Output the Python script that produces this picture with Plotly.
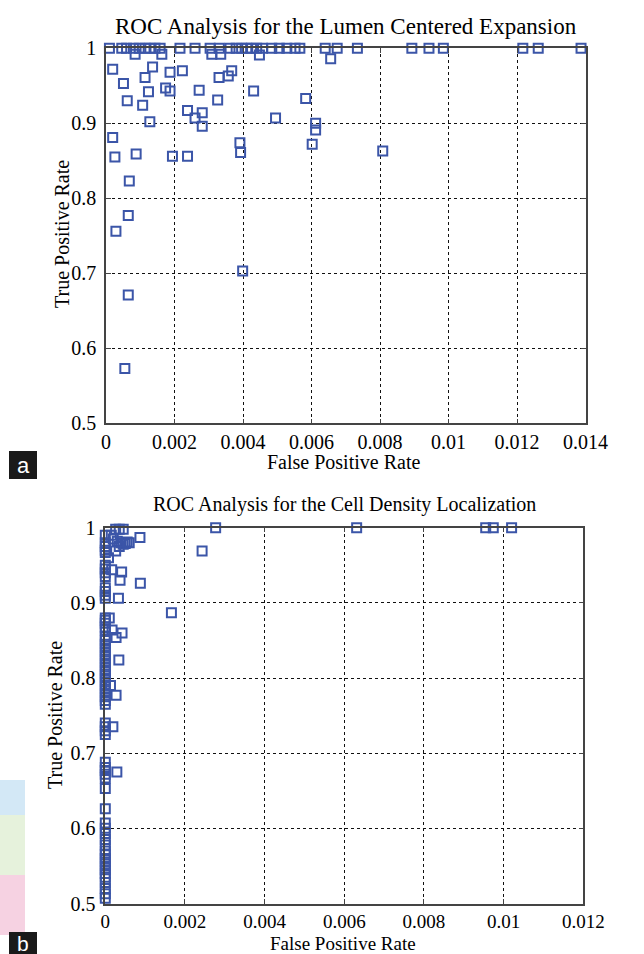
import plotly.graph_objects as go

# ---------------- Data: (a) Lumen Centered Expansion ----------------
fpr_a = [
    # points at TPR = 1
    0.0001, 0.00046, 0.0006, 0.0008, 0.00097, 0.00114, 0.00128, 0.00143, 0.00158,
    0.00216, 0.0026, 0.00304, 0.00331, 0.00362, 0.0038, 0.00396, 0.00411, 0.00425,
    0.0044, 0.00457, 0.00484, 0.00506, 0.00528, 0.00552, 0.00566, 0.0064, 0.00675,
    0.00734, 0.00893, 0.00943, 0.00985, 0.01217, 0.01262, 0.01387,
    # remaining points
    0.00085, 0.00163, 0.00309, 0.00335, 0.00448, 0.00656,
    0.000195, 0.00136, 0.00187, 0.00223, 0.00367, 0.00357, 0.0033, 0.00114,
    0.00051, 0.00174, 0.00187, 0.00124, 0.00272, 0.00431, 0.00062, 0.00107,
    0.00326, 0.00583, 0.00238, 0.00281, 0.0026, 0.00281, 0.00495, 0.00128,
    0.00612, 0.00612, 0.00602, 0.000195, 0.00391, 0.00393, 0.00026, 0.00088,
    0.00194, 0.00238, 0.00068, 0.00065, 0.00029, 0.00808, 0.00399, 0.00065, 0.00055,
]
tpr_a = [
    1, 1, 1, 1, 1, 1, 1, 1, 1,
    1, 1, 1, 1, 1, 1, 1, 1, 1,
    1, 1, 1, 1, 1, 1, 1, 1, 1,
    1, 1, 1, 1, 1, 1, 1,
    0.992, 0.992, 0.992, 0.992, 0.991, 0.986,
    0.972, 0.975, 0.968, 0.970, 0.970, 0.963, 0.961, 0.961,
    0.953, 0.947, 0.943, 0.942, 0.944, 0.943, 0.930, 0.924,
    0.931, 0.933, 0.917, 0.914, 0.907, 0.896, 0.907, 0.902,
    0.900, 0.891, 0.872, 0.881, 0.874, 0.861, 0.855, 0.859,
    0.856, 0.856, 0.823, 0.777, 0.756, 0.863, 0.703, 0.671, 0.573,
]

# ---------------- Data: (b) Cell Density Localization ----------------
fpr_b = [
    0.00277, 0.00243, 0.00631, 0.00955, 0.00974, 0.0102, 0.00166, 0.00088, 0.00087,
    0.00026, 0.00045, 0.00035, 0.00015, 0.0002, 0.0003, 0.0004, 0.0005, 0.00055,
    0.0006, 0.00035, 0.00045, 0.00026, 0.00008,
    0.00016, 0.00041, 0.00037, 0.00033,
    0.00017, 0.00042, 0.00027, 0.00034, 0.00027, 0.00013, 0.00019, 0.00029, 0.0001,
    0, 0, 0, 0, 0, 0, 0, 0, 0, 0, 0, 0, 0, 0, 0, 0, 0, 0, 0, 0, 0, 0, 0, 0,
    0, 0, 0, 0, 0, 0, 0, 0, 0, 0, 0, 0, 0, 0, 0, 0, 0, 0, 0, 0, 0, 0, 0, 0,
    0, 0, 0, 0, 0, 0, 0, 0, 0, 0, 0, 0, 0, 0, 0, 0, 0,
]
tpr_b = [
    1.0, 0.969, 1.0, 1.0, 1.0, 1.0, 0.887, 0.926, 0.987,
    0.998, 0.998, 0.998, 0.990, 0.985, 0.982, 0.980, 0.979, 0.981,
    0.980, 0.975, 0.978, 0.969, 0.960,
    0.944, 0.941, 0.930, 0.906,
    0.864, 0.860, 0.854, 0.824, 0.777, 0.790, 0.735, 0.675, 0.880,
    0.990, 0.980, 0.975, 0.970, 0.967, 0.950, 0.945, 0.940, 0.935, 0.920, 0.915,
    0.910, 0.906, 0.880, 0.877, 0.873, 0.868, 0.864, 0.855, 0.850, 0.845, 0.840,
    0.835, 0.830, 0.825, 0.820, 0.815, 0.810, 0.805, 0.800, 0.795, 0.790, 0.785,
    0.780, 0.775, 0.770, 0.765, 0.740, 0.735, 0.730, 0.725, 0.688, 0.681, 0.677,
    0.672, 0.667, 0.653, 0.626, 0.607, 0.600, 0.593, 0.585, 0.578, 0.570, 0.565,
    0.560, 0.555, 0.550, 0.545, 0.540, 0.535, 0.528, 0.520, 0.513, 0.507,
]

xticks_a = [0, 0.002, 0.004, 0.006, 0.008, 0.010, 0.012, 0.014]
xticklabels_a = ["0", "0.002", "0.004", "0.006", "0.008", "0.01", "0.012", "0.014"]
xticks_b = [0, 0.002, 0.004, 0.006, 0.008, 0.010, 0.012]
xticklabels_b = ["0", "0.002", "0.004", "0.006", "0.008", "0.01", "0.012"]
yticks = [0.5, 0.6, 0.7, 0.8, 0.9, 1.0]
yticklabels = ["0.5", "0.6", "0.7", "0.8", "0.9", "1"]

title_a = "ROC Analysis for the Lumen Centered Expansion"
title_b = "ROC Analysis for the Cell Density Localization"

W, H = 644, 954
BLUE = "#3B55A8"
FONT = "Liberation Serif"


def px(x):
    return x / W


def py(y):
    return 1 - y / H


marker = dict(symbol="square-open", size=9, color=BLUE, line=dict(width=2, color=BLUE))

fig = go.Figure()
fig.add_trace(go.Scatter(x=fpr_a, y=tpr_a, mode="markers", marker=marker,
                         xaxis="x", yaxis="y", cliponaxis=False, showlegend=False))
fig.add_trace(go.Scatter(x=fpr_b, y=tpr_b, mode="markers", marker=marker,
                         xaxis="x2", yaxis="y2", cliponaxis=False, showlegend=False))

axis_common = dict(
    showgrid=True, gridcolor="#111", griddash="3px,3px", gridwidth=1,
    zeroline=False, showline=True, linecolor="#444", linewidth=1.5,
    mirror="allticks", ticks="inside", ticklen=5, tickcolor="#444",
    automargin=False,
)
tf20 = dict(family=FONT, size=20, color="black")
tf19 = dict(family=FONT, size=19, color="black")

fig.update_layout(
    template="none",
    width=W, height=H,
    margin=dict(l=0, r=0, t=0, b=0, autoexpand=False),
    paper_bgcolor="white", plot_bgcolor="white",
    xaxis=dict(domain=[px(106), px(585.5)], range=[0, 0.014], anchor="y",
               tickvals=xticks_a, ticktext=xticklabels_a, tickfont=tf20, **axis_common),
    yaxis=dict(domain=[py(423.3), py(48.3)], range=[0.5, 1.0], anchor="x",
               tickvals=yticks, ticktext=yticklabels, ticklabelstandoff=4, tickfont=tf20,
               **axis_common),
    xaxis2=dict(domain=[px(105.3), px(583.3)], range=[0, 0.012], anchor="y2",
                tickvals=xticks_b, ticktext=xticklabels_b, tickfont=tf19, **axis_common),
    yaxis2=dict(domain=[py(903.5), py(527.7)], range=[0.5, 1.0], anchor="x2",
                tickvals=yticks, ticktext=yticklabels, ticklabelstandoff=4, tickfont=tf20,
                **axis_common),
)

annotations = [
    dict(text=title_a, x=px(346), y=py(26), font=dict(family=FONT, size=23, color="black")),
    dict(text="False Positive Rate", x=px(343), y=py(462), font=dict(family=FONT, size=20, color="black")),
    dict(text="True Positive Rate", x=px(62), y=py(234), textangle=-90,
         font=dict(family=FONT, size=20, color="black")),
    dict(text=title_b, x=px(344), y=py(505), font=dict(family=FONT, size=20, color="black")),
    dict(text="False Positive Rate", x=px(343), y=py(943), font=dict(family=FONT, size=19, color="black")),
    dict(text="True Positive Rate", x=px(55), y=py(715), textangle=-90,
         font=dict(family=FONT, size=20, color="black")),
    dict(text="a", x=px(23), y=py(465), font=dict(family="Liberation Sans", size=22, color="white")),
    dict(text="b", x=px(23), y=py(943), font=dict(family="Liberation Sans", size=21, color="white")),
]
for a in annotations:
    a.update(xref="paper", yref="paper", showarrow=False, xanchor="center", yanchor="middle")
fig.update_layout(annotations=annotations)

shapes = [
    # faint colour patches at left edge (scan artefacts)
    dict(type="rect", xref="paper", yref="paper", x0=0, x1=px(25), y0=py(815), y1=py(780),
         fillcolor="#d3e8f6", line=dict(width=0), layer="below"),
    dict(type="rect", xref="paper", yref="paper", x0=0, x1=px(25), y0=py(875), y1=py(815),
         fillcolor="#e6f2dc", line=dict(width=0), layer="below"),
    dict(type="rect", xref="paper", yref="paper", x0=0, x1=px(25), y0=py(935), y1=py(875),
         fillcolor="#f6d2e2", line=dict(width=0), layer="below"),
    # panel label boxes
    dict(type="rect", xref="paper", yref="paper", x0=px(9), x1=px(37), y0=py(479), y1=py(451),
         fillcolor="#1a1a1a", line=dict(width=0)),
    dict(type="rect", xref="paper", yref="paper", x0=px(9), x1=px(37), y0=py(954), y1=py(932),
         fillcolor="#1a1a1a", line=dict(width=0)),
]
fig.update_layout(shapes=shapes)

fig.write_html(
    "out.html",
    config={"displayModeBar": False},
    post_script="document.body.style.margin='0';document.body.style.overflow='hidden';",
)
